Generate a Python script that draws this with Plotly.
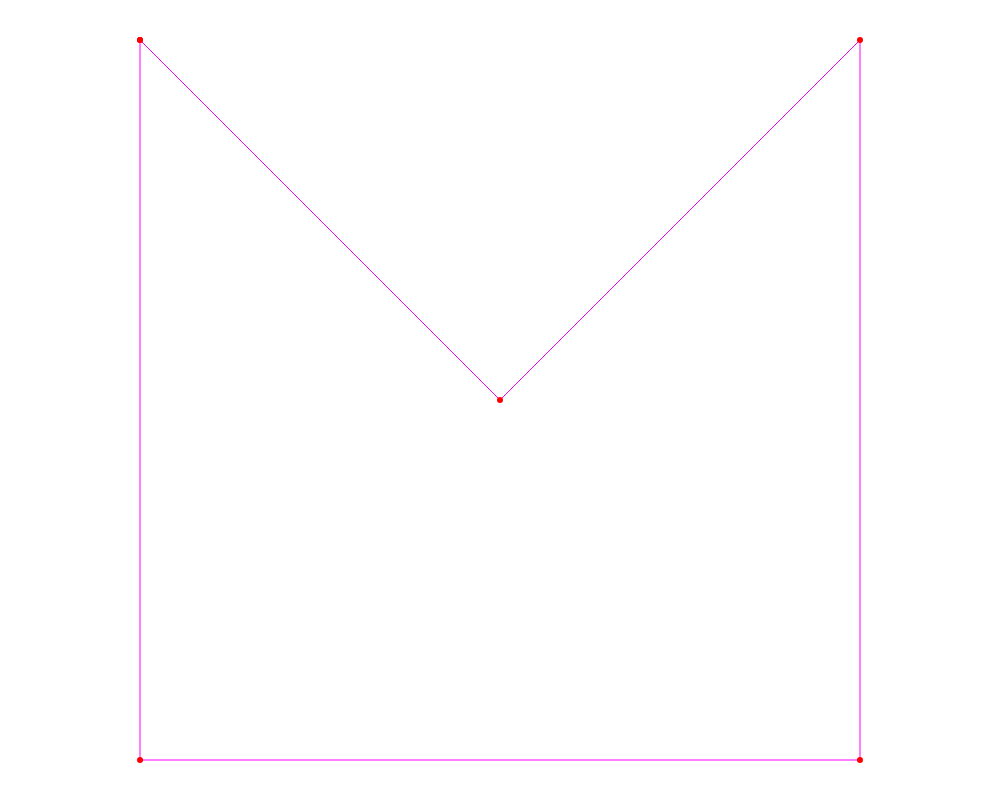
import plotly.graph_objects as go

# corners of the "M" outline, traced in order and closed back to the start
x_vals = [0, 1, 2, 2, 0, 0]
y_vals = [2, 1, 2, 0, 0, 2]

fig = go.Figure()
fig.add_trace(go.Scatter(
    x=x_vals, y=y_vals, mode="lines+markers",
    line=dict(color="magenta", width=1),
    marker=dict(color="red", size=6),
    cliponaxis=False,
    showlegend=False,
))

# a little padding round the shape so nothing sits on the clip edge
fig.update_layout(
    xaxis=dict(range=[-0.05, 2.05], visible=False),
    yaxis=dict(range=[-0.05, 2.05], visible=False),
    margin=dict(l=114, r=114, t=14, b=14),
    plot_bgcolor="white",
    paper_bgcolor="white",
)

fig.write_html("out.html")
